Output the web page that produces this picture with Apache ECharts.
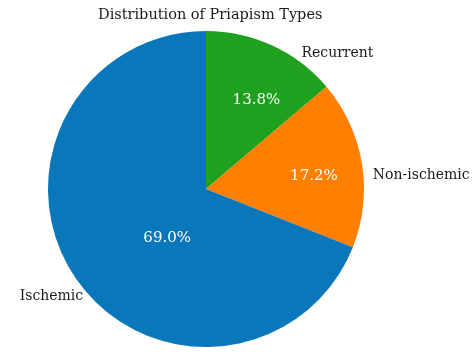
<!DOCTYPE html>
<html>
<head>
<meta charset="utf-8">
<script src="https://cdn.jsdelivr.net/npm/echarts@6/dist/echarts.min.js"></script>
<style>html,body{margin:0;padding:0;background:#fff;}#c{width:474px;height:357px;}</style>
</head>
<body>
<div id="c"></div>
<script>
const categories = ['Recurrent', 'Non-ischemic', 'Ischemic'];
const values = [13.8, 17.2, 69.0];
const colors = ['#1fa01f', '#ff7f00', '#0a77bb'];
// label nudges (style only)
const nameNudge = [[27, 12], [6, 13], [12, 16]];
const pctNudge = [[16, -14], [27, 0], [29, 3]];

const chart = echarts.init(document.getElementById('c'));
const font = '"DejaVu Serif", serif';
const data = categories.map((n, i) => ({ name: n, value: values[i], itemStyle: { color: colors[i] } }));

chart.setOption({
  animation: false,
  title: {
    text: 'Distribution of Priapism Types',
    left: 93, top: 3,
    textStyle: { fontFamily: font, fontSize: 14.5, fontWeight: 'normal', color: '#1a1a1a' }
  },
  series: [
    {
      type: 'pie',
      center: [206, 189],
      radius: [0, 158],
      startAngle: 90,
      clockwise: true,
      avoidLabelOverlap: false,
      data: data,
      label: {
        show: true, position: 'outside', formatter: '{b}', distanceToLabelLine: 0,
        fontFamily: font, fontSize: 14, color: '#1a1a1a'
      },
      labelLine: { show: false, length: 5, length2: 0 },
      labelLayout: p => ({ dx: nameNudge[p.dataIndex][0], dy: nameNudge[p.dataIndex][1] }),
      emphasis: { disabled: true }
    },
    {
      type: 'pie',
      center: [206, 189],
      radius: [0, 158],
      startAngle: 90,
      clockwise: true,
      silent: true,
      avoidLabelOverlap: false,
      data: data.map(d => ({ name: d.name, value: d.value, itemStyle: { color: 'rgba(0,0,0,0)' } })),
      label: {
        show: true, position: 'inside',
        formatter: p => values[p.dataIndex].toFixed(1) + '%',
        fontFamily: font, fontSize: 15, color: '#ffffff'
      },
      labelLine: { show: false },
      labelLayout: p => ({ dx: pctNudge[p.dataIndex][0], dy: pctNudge[p.dataIndex][1] }),
      emphasis: { disabled: true }
    }
  ]
});
</script>
</body>
</html>
